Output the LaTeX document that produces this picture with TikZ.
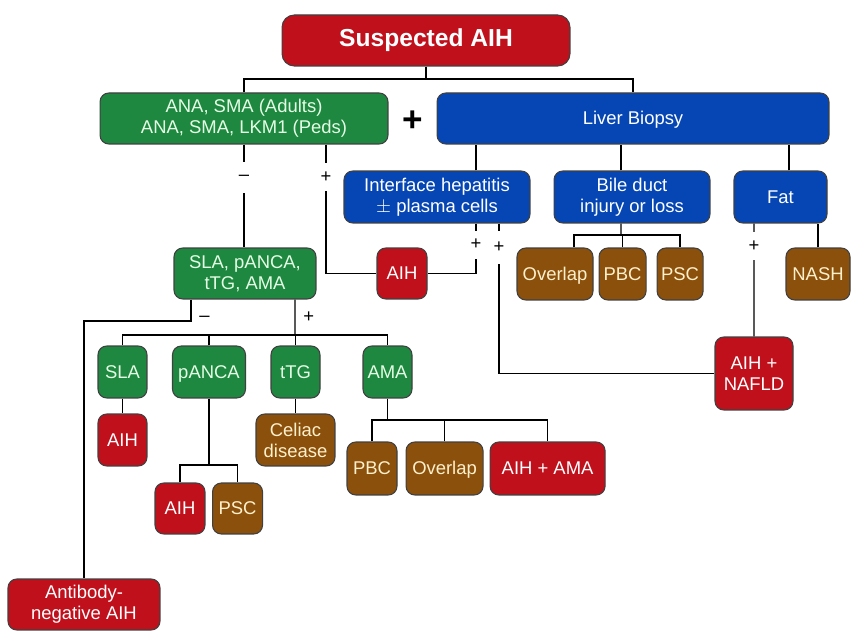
\documentclass[tikz,border=0pt]{standalone}
\usepackage{fontspec}
\setmainfont{Liberation Sans}
\usepackage{tikz}
\usetikzlibrary{positioning}
\definecolor{cRed}{RGB}{192,16,28}
\definecolor{cGreen}{RGB}{30,135,64}
\definecolor{cBlue}{RGB}{6,70,180}
\definecolor{cBrown}{RGB}{138,80,12}
\definecolor{cMint}{RGB}{228,255,228}
\definecolor{cCream}{RGB}{255,240,204}
\tikzset{
	box/.style      ={rectangle, rounded corners=5pt, draw=black!75, line width=0.6pt, align=center, inner sep=2pt, minimum height=1.02cm, text height=0.72em, text depth=0pt, font=\fontsize{10.5}{12}\selectfont},
	lines/.style    ={text height=, text depth=},
	redbox/.style   ={box, fill=cRed, text=white},
	greenbox/.style ={box, fill=cGreen, text=cMint},
	bluebox/.style  ={box, fill=cBlue, text=white},
	brownbox/.style ={box, fill=cBrown, text=cCream},
	link/.style     ={line width=0.8pt},
	% sign that breaks a connector
	sign/.style     ={fill=white, inner sep=1pt, minimum height=0.56cm, font=\fontsize{10.5}{12}\selectfont},
}
\begin{document}
\begin{tikzpicture}[x=0.02cm, y=-0.02cm]
	\useasboundingbox (0,0) rectangle (864,644);
	% top level
	\node[redbox, minimum width=5.76cm, rounded corners=7pt, font=\fontsize{14}{16}\bfseries\selectfont] (susp) at (426,40.5) {Suspected AIH};
	\node[greenbox, lines, minimum width=5.76cm] (ana) at (244,118.5) {ANA, SMA (Adults)\\ANA, SMA, LKM1 (Peds)};
	\node[font=\fontsize{20}{20}\bfseries\selectfont] (plus) at (413,121) {+};
	\node[bluebox, minimum width=7.84cm] (liver) at (633,118.5) {Liver Biopsy};
	% biopsy findings
	\node[bluebox, lines, minimum width=3.72cm, minimum height=1.04cm] (iface) at (437,197) {Interface hepatitis\\$\pm$ plasma cells};
	\node[bluebox, lines, minimum width=3.12cm, minimum height=1.04cm] (bile) at (632,197) {Bile duct\\injury or loss};
	\node[bluebox, minimum width=1.86cm, minimum height=1.04cm] (fat) at (780.5,197) {Fat};
	\node[redbox, minimum width=1.0cm] (aihM) at (402,273.5) {AIH};
	\node[brownbox, minimum width=1.52cm, minimum height=1.04cm] (overlapB) at (555,274) {Overlap};
	\node[brownbox, minimum width=0.94cm, minimum height=1.04cm, right=0.1cm of overlapB] (pbcB) {PBC};
	\node[brownbox, minimum width=0.92cm, minimum height=1.04cm, right=0.2cm of pbcB] (pscB) {PSC};
	\node[brownbox, minimum width=1.28cm, minimum height=1.04cm] (nash) at (818,274) {NASH};
	\node[redbox, lines, minimum width=1.56cm, minimum height=1.46cm] (nafld) at (754,373.5) {AIH +\\NAFLD};
	% second antibody panel
	\node[greenbox, lines, minimum width=2.84cm] (panel) at (245,273.5) {SLA, pANCA,\\tTG, AMA};
	\node[greenbox, minimum width=0.98cm, minimum height=1.04cm] (sla) at (122.5,372) {SLA};
	\node[greenbox, minimum width=1.46cm, minimum height=1.04cm] (panca) at (209,372) {pANCA};
	\node[greenbox, minimum width=0.98cm, minimum height=1.04cm] (ttg) at (295.5,372) {tTG};
	\node[greenbox, minimum width=0.98cm, minimum height=1.04cm] (ama) at (387.5,372) {AMA};
	\node[redbox, minimum width=0.98cm, minimum height=1.04cm] (aihS) at (122.5,440) {AIH};
	\node[brownbox, lines, minimum width=1.58cm, minimum height=1.04cm] (celiac) at (295.5,440) {Celiac\\disease};
	\node[redbox, minimum width=1.0cm] (aihP) at (180,508.5) {AIH};
	\node[brownbox, minimum width=1.0cm, right=0.13cm of aihP] (pscP) {PSC};
	\node[brownbox, minimum width=1.0cm, minimum height=1.06cm] (pbcA) at (372,468.5) {PBC};
	\node[brownbox, minimum width=1.54cm, minimum height=1.06cm, right=0.16cm of pbcA] (overlapA) {Overlap};
	\node[redbox, minimum width=2.3cm, minimum height=1.06cm, right=0.12cm of overlapA] (aihama) {AIH + AMA};
	\node[redbox, lines, minimum width=3.04cm] (antineg) at (84,604.5) {Antibody-\\negative AIH};
	% junctions
	\coordinate (topbar) at (426,79);
	\coordinate (bilebar) at (621,235);
	\coordinate (negturn) at (84,321);
	\coordinate (bar) at (295,335);
	\coordinate (pancabar) at (209,465);
	\coordinate (amabar) at (387.5,420);
	% connectors
	\draw[link] (susp.south) -- (topbar);
	\draw[link] (ana.north) |- (topbar) -| (liver.north);
	\draw[link] ([xshift=0.78cm]iface.north) -- ([xshift=0.78cm]iface.north |- liver.south);
	\draw[link] ([xshift=-0.22cm]bile.north) -- ([xshift=-0.22cm]bile.north |- liver.south);
	\draw[link] ([xshift=0.17cm]fat.north) -- ([xshift=0.17cm]fat.north |- liver.south);
	\draw[link] ([xshift=-0.22cm]bile.south) -- (bilebar);
	\draw[link] ([xshift=0.38cm]overlapB.north) |- (bilebar) -| (pscB.north);
	\draw[link] (pbcB.north) -- (pbcB.north |- bilebar);
	\draw[link] (nash.north) -- (nash.north |- fat.south);
	\draw[link] ([xshift=-0.53cm]fat.south) -- node[sign, pos=0.2] {+} (nafld.north);
	\draw[link] ([xshift=0.78cm]iface.south) |- node[sign, pos=0.21] {+} (aihM.east);
	\draw[link] ([xshift=1.24cm]iface.south) |- node[sign, pos=0.08, minimum height=0.66cm] {+} (nafld.west);
	\draw[link] (ana.south) -- node[sign, pos=0.32, minimum height=0.62cm] {--} (ana.south |- panel.north);
	\draw[link] ([xshift=1.64cm]ana.south) |- node[sign, pos=0.125] {+} (aihM.west);
	\draw[link] ([xshift=-1.08cm]panel.south) |- node[pos=0.5, anchor=west, yshift=1pt, xshift=1pt, font=\fontsize{10.5}{12}\selectfont] {--} (negturn) -- (antineg.north);
	\draw[link] ([xshift=1.0cm]panel.south) -- node[pos=0.5, right, xshift=1pt, font=\fontsize{10.5}{12}\selectfont] {+} (bar);
	\draw[link] (sla.north) |- (bar) -| (ama.north);
	\draw[link] (panca.north) -- (panca.north |- bar);
	\draw[link] (ttg.north) -- (ttg.north |- bar);
	\draw[link] (sla.south) -- (aihS.north);
	\draw[link] (ttg.south) -- (celiac.north);
	\draw[link] (panca.south) -- (pancabar);
	\draw[link] (aihP.north) |- (pancabar) -| (pscP.north);
	\draw[link] (ama.south) -- (amabar);
	\draw[link] (pbcA.north) |- (amabar) -| (aihama.north);
	\draw[link] (overlapA.north) -- (overlapA.north |- amabar);
\end{tikzpicture}
\end{document}
